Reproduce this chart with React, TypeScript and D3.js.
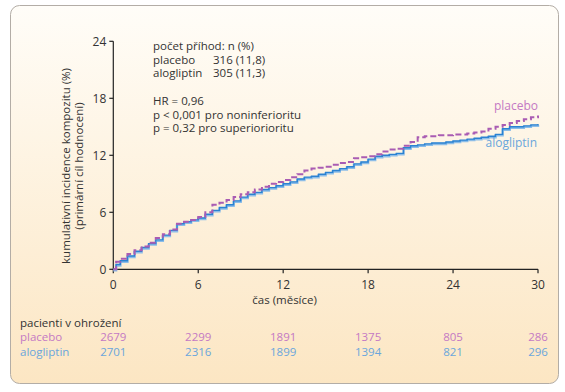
import { useMemo } from 'react';
import * as d3 from 'd3';

// čas (měsíce) a kumulativní incidence (%)
const TIMES = [
  0, 0.2, 0.5, 1, 1.5, 2, 2.5, 3, 3.5, 4, 4.5, 5, 5.5, 6, 6.5, 7, 7.5, 8, 8.5, 9, 9.5,
  10, 10.5, 11, 11.5, 12, 12.5, 13, 13.5, 14, 14.5, 15, 15.5, 16, 16.5, 17, 17.5, 18, 18.5,
  19, 19.5, 20, 20.5, 21, 21.5, 22, 22.5, 23, 23.5, 24, 24.5, 25, 25.5, 26, 26.5, 27, 27.5,
  28, 28.5, 29, 29.5, 30,
];
const PLACEBO = [
  0, 0.8, 1.1, 1.6, 2.0, 2.4, 2.8, 3.3, 3.7, 4.2, 4.8, 5.0, 5.2, 5.5, 6.0, 6.8, 7.0, 7.3, 7.6, 7.9, 8.1,
  8.4, 8.7, 9.0, 9.2, 9.4, 9.7, 10.0, 10.4, 10.6, 10.7, 10.8, 11.0, 11.2, 11.3, 11.7, 11.8, 11.9, 12.1,
  12.4, 12.6, 12.7, 13.0, 13.4, 13.9, 14.0, 14.0, 14.1, 14.1, 14.2, 14.2, 14.3, 14.4, 14.5, 14.8, 15.0, 15.2,
  15.4, 15.6, 15.8, 16.0, 16.2,
];
const ALOGLIPTIN = [
  0, 0.5, 0.9, 1.4, 1.9, 2.3, 2.7, 3.1, 3.6, 4.1, 4.8, 5.0, 5.2, 5.4, 5.8, 6.2, 6.5, 6.8, 7.2, 7.6, 7.9,
  8.1, 8.4, 8.6, 8.8, 9.0, 9.2, 9.5, 9.7, 9.8, 10.0, 10.2, 10.4, 10.6, 10.8, 11.1, 11.3, 11.6, 11.9,
  12.0, 12.1, 12.2, 12.8, 13.0, 13.1, 13.2, 13.3, 13.3, 13.4, 13.5, 13.6, 13.7, 13.8, 13.9, 14.0, 14.2, 14.8,
  15.0, 15.0, 15.1, 15.2, 15.3,
];

const X_TICKS = [0, 6, 12, 18, 24, 30];
const Y_TICKS = [0, 6, 12, 18, 24];
const RISK_PLACEBO = [2679, 2299, 1891, 1375, 805, 286];
const RISK_ALOGLIPTIN = [2701, 2316, 1899, 1394, 821, 296];

const INFO_LINES = [
  ['počet příhod: n (%)', ''],
  ['placebo', '316 (11,8)'],
  ['alogliptin', '305 (11,3)'],
];
const STATS_LINES = ['HR = 0,96', 'p < 0,001 pro noninferioritu', 'p = 0,32 pro superiorioritu'];

const W = 565;
const H = 392;
const FONT = '"Open Sans", "Noto Sans", sans-serif';
const TEXT = '#333';
const PLACEBO_LINE = '#a95cb3';
const PLACEBO_TEXT = '#c479c4';
const ALO_LINE = '#2b82d2';
const ALO_LIGHT = '#8cbde8';
const ALO_TEXT = '#6aa6dc';

export default function App() {
  const x = d3.scaleLinear().domain([0, 30]).range([113.3, 538]);
  const y = d3.scaleLinear().domain([0, 24]).range([269.3, 41.3]);

  const { placeboPath, aloPath } = useMemo(() => {
    const line = d3.line<number>()
      .x((_, i) => x(TIMES[i]))
      .y(d => y(d))
      .curve(d3.curveStepAfter);
    return { placeboPath: line(PLACEBO) || '', aloPath: line(ALOGLIPTIN) || '' };
  }, []);

  const y0 = y(0);

  return (
    <svg
      width={W}
      height={H}
      style={{ position: 'absolute', left: 0, top: 0, fontFamily: FONT }}
    >
      <defs>
        <linearGradient id="bg" x1="0" y1="0" x2="0" y2="1">
          <stop offset="0%" stopColor="#fffdf8" />
          <stop offset="100%" stopColor="#fce6c3" />
        </linearGradient>
      </defs>
      <rect x={10.5} y={5.5} width={548} height={378} rx={9} fill="url(#bg)" stroke="#b3ada6" strokeWidth={1} />

      {/* osy */}
      <line x1={x(0)} x2={x(0)} y1={y(24)} y2={y0} stroke="#222" strokeWidth={1.2} />
      <line x1={x(0)} x2={x(30)} y1={y0} y2={y0} stroke="#222" strokeWidth={1.2} />
      {Y_TICKS.map(t => (
        <g key={'y' + t}>
          <line x1={x(0) - 4} x2={x(0)} y1={y(t)} y2={y(t)} stroke="#222" strokeWidth={1.2} />
          <text x={x(0) - 7} y={y(t)} dy="0.35em" textAnchor="end" fontSize={12} fill={TEXT}>{t}</text>
        </g>
      ))}
      {X_TICKS.map(t => (
        <g key={'x' + t}>
          <line x1={x(t)} x2={x(t)} y1={y0} y2={y0 + 4} stroke="#222" strokeWidth={1.2} />
          <text x={x(t)} y={y0 + 15} dy="0.35em" textAnchor="middle" fontSize={12} fill={TEXT}>{t}</text>
        </g>
      ))}
      <text x={x(12.1)} y={300} dy="0.35em" textAnchor="middle" fontSize={11.5} fill={TEXT}>čas (měsíce)</text>
      <text transform={`translate(66,166) rotate(-90)`} textAnchor="middle" dy="0.35em" fontSize={11.5} fill={TEXT}>
        kumulativní incidence kompozitu (%)
      </text>
      <text transform={`translate(79,166) rotate(-90)`} textAnchor="middle" dy="0.35em" fontSize={11.5} fill={TEXT}>
        (primární cíl hodnocení)
      </text>

      {/* křivky */}
      <path d={aloPath} fill="none" stroke={ALO_LIGHT} strokeWidth={2.4} transform="translate(0,1)" />
      <path d={aloPath} fill="none" stroke={ALO_LINE} strokeWidth={1.4} />
      <path d={placeboPath} fill="none" stroke={PLACEBO_LINE} strokeWidth={2} strokeDasharray="6,3" />

      <text x={538} y={106} dy="0.35em" textAnchor="end" fontSize={12} fill={PLACEBO_TEXT}>placebo</text>
      <text x={537} y={143} dy="0.35em" textAnchor="end" fontSize={12} fill={ALO_TEXT}>alogliptin</text>

      {/* anotace */}
      {INFO_LINES.map((l, i) => (
        <g key={'i' + i}>
          <text x={153} y={46 + i * 13.5} dy="0.35em" fontSize={11.5} fill={TEXT}>{l[0]}</text>
          <text x={213} y={46 + i * 13.5} dy="0.35em" fontSize={11.5} fill={TEXT}>{l[1]}</text>
        </g>
      ))}
      {STATS_LINES.map((l, i) => (
        <text key={'s' + i} x={153} y={101 + i * 13.5} dy="0.35em" fontSize={11.5} fill={TEXT}>{l}</text>
      ))}

      {/* pacienti v ohrožení */}
      <text x={20} y={323} dy="0.35em" fontSize={11.5} fill={TEXT}>pacienti v ohrožení</text>
      <text x={20} y={337} dy="0.35em" fontSize={11.5} fill={PLACEBO_TEXT}>placebo</text>
      <text x={20} y={352} dy="0.35em" fontSize={11.5} fill={ALO_TEXT}>alogliptin</text>
      {X_TICKS.map((t, i) => (
        <g key={'r' + t}>
          <text x={x(t)} y={337} dy="0.35em" textAnchor="middle" fontSize={11.5} fill={PLACEBO_TEXT}>{RISK_PLACEBO[i]}</text>
          <text x={x(t)} y={352} dy="0.35em" textAnchor="middle" fontSize={11.5} fill={ALO_TEXT}>{RISK_ALOGLIPTIN[i]}</text>
        </g>
      ))}
    </svg>
  );
}
